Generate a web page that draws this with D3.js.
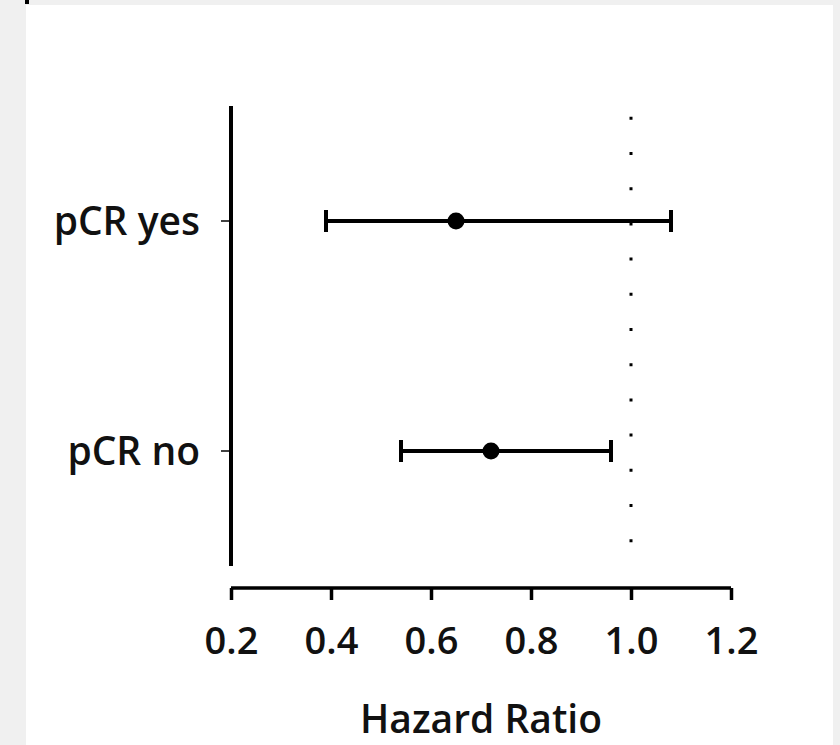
<!DOCTYPE html>
<html>
<head>
<meta charset="utf-8">
<script src="https://cdn.jsdelivr.net/npm/d3@7"></script>
<style>
  body { margin: 0; background: #f0f0f0; }
  svg { display: block; }
  text { font-family: "Open Sans", sans-serif; font-weight: 600; fill: #111; }
</style>
</head>
<body>
<div id="chart"></div>
<script>
// data
var groups = ["pCR yes", "pCR no"];
var hr = [0.65, 0.72];
var lower = [0.39, 0.54];
var upper = [1.08, 0.96];
var xTicks = [0.2, 0.4, 0.6, 0.8, 1.0, 1.2];
var refLine = 1.0;

var W = 840, H = 745;

var svg = d3.select('#chart').append('svg').attr('width', W).attr('height', H);

// panel background
svg.append('rect').attr('x', 0).attr('y', 0).attr('width', W).attr('height', H).attr('fill', '#f0f0f0');
svg.append('rect').attr('x', 26).attr('y', 5).attr('width', 807).attr('height', H - 5).attr('fill', '#fff');
svg.append('rect').attr('x', 25).attr('y', 0).attr('width', 4).attr('height', 4).attr('fill', '#000');

var x = d3.scaleLinear().domain([0.2, 1.2]).range([231, 731]);
var y = d3.scalePoint().domain(groups).range([106, 566]).padding(0.5);

// y axis (detached)
svg.append('line').attr('x1', 231).attr('x2', 231).attr('y1', 106).attr('y2', 566)
  .attr('stroke', '#000').attr('stroke-width', 4);
var yAxis = svg.append('g').selectAll('g.ytick').data(groups).enter().append('g').attr('class', 'ytick');
yAxis.append('line').attr('x1', 221).attr('x2', 231).attr('y1', function(d) { return y(d); }).attr('y2', function(d) { return y(d); })
  .attr('stroke', '#000').attr('stroke-width', 1.5);
yAxis.append('text').attr('x', 200).attr('y', function(d) { return y(d); }).attr('dy', '0.35em')
  .attr('text-anchor', 'end').style('font-size', '39px').text(function(d) { return d; });

// x axis
var xg = svg.append('g').attr('transform', 'translate(0,588)')
  .call(d3.axisBottom(x).tickValues(xTicks).tickFormat(d3.format('.1f')).tickSize(12).tickPadding(27));
xg.select('.domain').attr('stroke', '#000').attr('stroke-width', 3.5)
  .attr('d', 'M' + x(0.2) + ',0H' + x(1.2));
xg.selectAll('.tick line').attr('stroke', '#000').attr('stroke-width', 3.5);
xg.selectAll('.tick text').style('font-size', '38px').style('font-family', '"Open Sans", sans-serif').attr('fill', '#111');

svg.append('text').attr('x', x(0.7)).attr('y', 733).attr('text-anchor', 'middle')
  .style('font-size', '39px').text('Hazard Ratio');

// reference line at HR = 1
svg.append('line').attr('x1', x(refLine)).attr('x2', x(refLine)).attr('y1', 116.8).attr('y2', 566)
  .attr('stroke', '#000').attr('stroke-width', 3).attr('stroke-dasharray', '3,32.2');

// error bars and points
var rows = svg.append('g').selectAll('g.row').data(groups).enter().append('g').attr('class', 'row');
rows.append('line').attr('x1', function(d, i) { return x(lower[i]); }).attr('x2', function(d, i) { return x(upper[i]); })
  .attr('y1', function(d) { return y(d); }).attr('y2', function(d) { return y(d); })
  .attr('stroke', '#000').attr('stroke-width', 4);
rows.append('line').attr('x1', function(d, i) { return x(lower[i]); }).attr('x2', function(d, i) { return x(lower[i]); })
  .attr('y1', function(d) { return y(d) - 11; }).attr('y2', function(d) { return y(d) + 11; })
  .attr('stroke', '#000').attr('stroke-width', 4);
rows.append('line').attr('x1', function(d, i) { return x(upper[i]); }).attr('x2', function(d, i) { return x(upper[i]); })
  .attr('y1', function(d) { return y(d) - 11; }).attr('y2', function(d) { return y(d) + 11; })
  .attr('stroke', '#000').attr('stroke-width', 4);
rows.append('circle').attr('cx', function(d, i) { return x(hr[i]); }).attr('cy', function(d) { return y(d); })
  .attr('r', 8.5).attr('fill', '#000');
</script>
</body>
</html>
